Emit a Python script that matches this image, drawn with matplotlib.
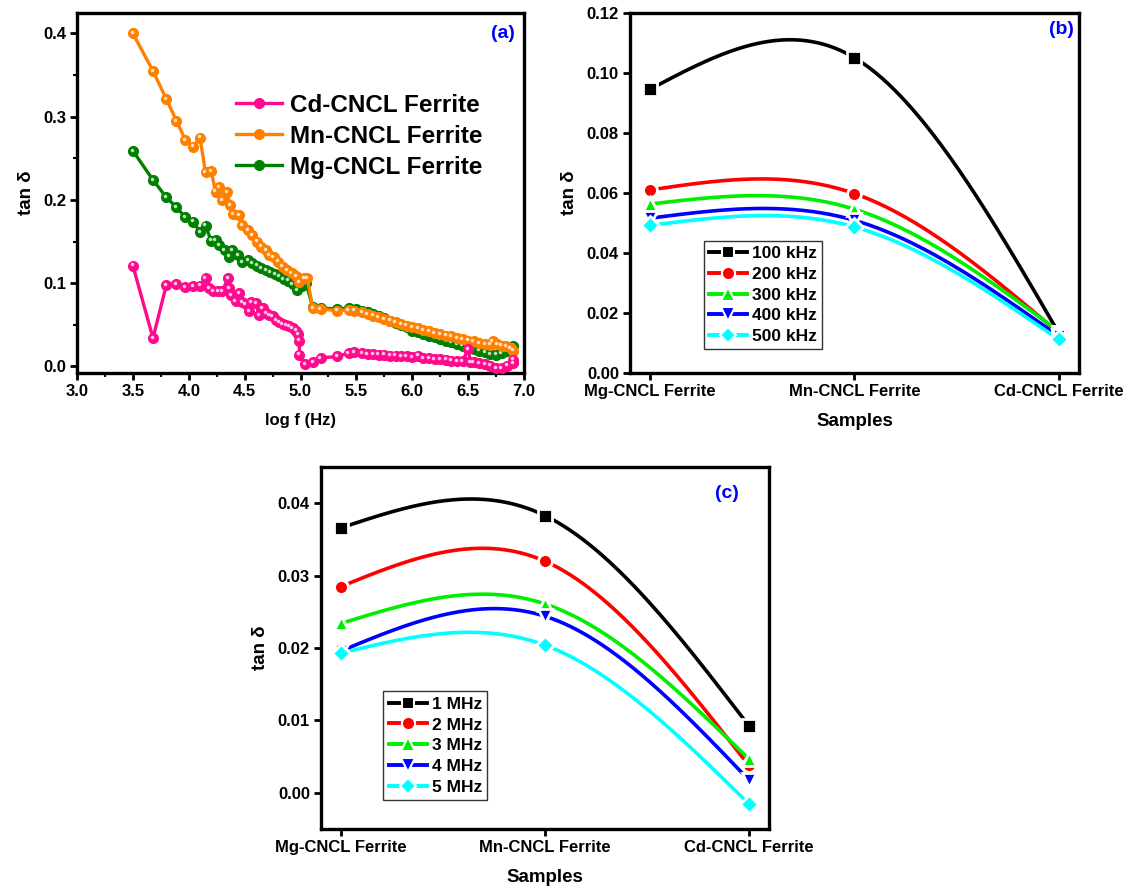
import numpy as np
import matplotlib
matplotlib.use("Agg")
import matplotlib.pyplot as plt
import matplotlib.transforms as mtransforms
from matplotlib.ticker import MultipleLocator, FormatStrFormatter

plt.rcParams['font.family'] = ['Liberation Sans', 'DejaVu Sans']
plt.rcParams['font.weight'] = 'bold'

# ---- panel (a): tan delta vs log f ----
mn_x = [3.50, 3.68, 3.80, 3.89, 3.97, 4.04, 4.10, 4.15, 4.20, 4.24, 4.27, 4.30, 4.34, 4.37,
        4.40, 4.45, 4.48, 4.53, 4.57, 4.61, 4.65, 4.69, 4.72, 4.76, 4.80, 4.84, 4.88, 4.92,
        4.96, 4.99, 5.03, 5.06, 5.11, 5.18, 5.33, 5.43, 5.48, 5.55, 5.60, 5.65, 5.70, 5.75,
        5.80, 5.85, 5.90, 5.95, 6.00, 6.05, 6.10, 6.15, 6.20, 6.25, 6.30, 6.35, 6.40, 6.45,
        6.50, 6.55, 6.60, 6.65, 6.70, 6.72, 6.76, 6.80, 6.84, 6.88, 6.90]
mn_y = [0.400, 0.355, 0.321, 0.295, 0.272, 0.264, 0.275, 0.233, 0.235, 0.210, 0.215, 0.200, 0.209, 0.194,
        0.183, 0.182, 0.170, 0.164, 0.158, 0.150, 0.144, 0.140, 0.134, 0.131, 0.126, 0.120, 0.116, 0.112,
        0.108, 0.101, 0.106, 0.106, 0.070, 0.069, 0.067, 0.068, 0.067, 0.065, 0.063, 0.061, 0.059, 0.057,
        0.055, 0.053, 0.051, 0.049, 0.047, 0.046, 0.044, 0.042, 0.040, 0.039, 0.037, 0.036, 0.034, 0.033,
        0.031, 0.030, 0.028, 0.027, 0.026, 0.030, 0.027, 0.025, 0.024, 0.022, 0.019]

mg_x = [3.50, 3.68, 3.80, 3.89, 3.97, 4.04, 4.10, 4.15, 4.20, 4.24, 4.27, 4.32, 4.36, 4.39,
        4.44, 4.48, 4.53, 4.57, 4.61, 4.65, 4.69, 4.73, 4.77, 4.81, 4.85, 4.89, 4.93, 4.97,
        5.01, 5.05, 5.11, 5.18, 5.33, 5.43, 5.50, 5.55, 5.60, 5.65, 5.70, 5.75, 5.80, 5.85,
        5.90, 5.95, 6.00, 6.05, 6.10, 6.15, 6.20, 6.25, 6.30, 6.35, 6.40, 6.45, 6.50, 6.55,
        6.60, 6.65, 6.70, 6.75, 6.80, 6.85, 6.90]
mg_y = [0.259, 0.224, 0.203, 0.191, 0.179, 0.174, 0.161, 0.169, 0.151, 0.152, 0.146, 0.140, 0.132, 0.140,
        0.134, 0.125, 0.128, 0.124, 0.121, 0.118, 0.116, 0.113, 0.111, 0.108, 0.105, 0.103, 0.099, 0.092,
        0.096, 0.100, 0.071, 0.070, 0.069, 0.070, 0.069, 0.067, 0.065, 0.063, 0.061, 0.058, 0.055, 0.052,
        0.050, 0.047, 0.043, 0.041, 0.039, 0.037, 0.035, 0.033, 0.031, 0.029, 0.027, 0.025, 0.023, 0.021,
        0.019, 0.017, 0.015, 0.014, 0.016, 0.019, 0.025]

cd_x = [3.50, 3.68, 3.80, 3.89, 3.97, 4.04, 4.10, 4.15, 4.18, 4.22, 4.26, 4.30, 4.35, 4.36,
        4.38, 4.42, 4.45, 4.48, 4.51, 4.54, 4.56, 4.60, 4.63, 4.66, 4.69, 4.72, 4.75, 4.78,
        4.81, 4.84, 4.87, 4.90, 4.93, 4.96, 4.98, 4.99, 4.99, 5.04, 5.11, 5.18, 5.33, 5.43,
        5.48, 5.55, 5.60, 5.65, 5.70, 5.75, 5.80, 5.85, 5.90, 5.95, 6.00, 6.05, 6.10, 6.15,
        6.20, 6.25, 6.30, 6.35, 6.40, 6.45, 6.50, 6.52, 6.55, 6.60, 6.65, 6.70, 6.75, 6.80,
        6.85, 6.90, 6.90]
cd_y = [0.121, 0.034, 0.098, 0.099, 0.095, 0.096, 0.097, 0.106, 0.094, 0.090, 0.090, 0.090, 0.106, 0.094,
        0.086, 0.078, 0.088, 0.077, 0.075, 0.066, 0.077, 0.076, 0.062, 0.070, 0.064, 0.062, 0.060, 0.056,
        0.053, 0.051, 0.050, 0.048, 0.046, 0.043, 0.039, 0.031, 0.014, 0.003, 0.005, 0.010, 0.012, 0.016,
        0.017, 0.016, 0.015, 0.015, 0.014, 0.014, 0.013, 0.013, 0.012, 0.012, 0.011, 0.013, 0.010, 0.010,
        0.009, 0.009, 0.008, 0.007, 0.006, 0.006, 0.021, 0.005, 0.005, 0.004, 0.003, 0.001, -0.002, -0.002,
        0.001, 0.008, 0.004]

# ---- panels (b) and (c): tan delta vs sample ----
samples = ['Mg-CNCL Ferrite', 'Mn-CNCL Ferrite', 'Cd-CNCL Ferrite']

khz_labels = ['100 kHz', '200 kHz', '300 kHz', '400 kHz', '500 kHz']
khz_vals = [[0.0945, 0.1050, 0.0135],
            [0.0610, 0.0598, 0.0135],
            [0.0563, 0.0546, 0.0140],
            [0.0516, 0.0509, 0.0124],
            [0.0492, 0.0487, 0.0113]]

mhz_labels = ['1 MHz', '2 MHz', '3 MHz', '4 MHz', '5 MHz']
mhz_vals = [[0.0366, 0.0383, 0.0093],
            [0.0285, 0.0320, 0.0038],
            [0.0234, 0.0261, 0.0047],
            [0.0196, 0.0244, 0.0018],
            [0.0193, 0.0204, -0.0015]]

series_colors = ['#000000', '#ff0000', '#00ee00', '#0000ff', '#00ffff']
series_markers = ['s', 'o', '^', 'v', 'D']
marker_sizes = [9.5, 10, 10.5, 10.5, 9]


def natural_spline(xp, yp, n=200):
    xp = np.asarray(xp, float)
    yp = np.asarray(yp, float)
    m = len(xp)
    h = np.diff(xp)
    A = np.zeros((m, m))
    r = np.zeros(m)
    A[0, 0] = A[-1, -1] = 1
    for i in range(1, m - 1):
        A[i, i - 1] = h[i - 1]
        A[i, i] = 2 * (h[i - 1] + h[i])
        A[i, i + 1] = h[i]
        r[i] = 6 * ((yp[i + 1] - yp[i]) / h[i] - (yp[i] - yp[i - 1]) / h[i - 1])
    M = np.linalg.solve(A, r)
    xs = np.linspace(xp[0], xp[-1], n)
    idx = np.clip(np.searchsorted(xp, xs) - 1, 0, m - 2)
    x0, x1 = xp[idx], xp[idx + 1]
    hh = x1 - x0
    a = (x1 - xs) / hh
    b = (xs - x0) / hh
    ys = (a * yp[idx] + b * yp[idx + 1]
          + ((a ** 3 - a) * M[idx] + (b ** 3 - b) * M[idx + 1]) * hh ** 2 / 6)
    return xs, ys


def style_axes(ax):
    for sp in ax.spines.values():
        sp.set_linewidth(2.4)
    ax.tick_params(which='major', direction='out', length=5, width=2, labelsize=12, pad=3)
    ax.tick_params(which='minor', direction='out', length=3, width=1.5)
    for lab in ax.get_xticklabels() + ax.get_yticklabels():
        lab.set_fontweight('bold')


fig = plt.figure(figsize=(11.34, 8.92), dpi=100)

# ---------------- (a) ----------------
ax1 = fig.add_axes([0.0679, 0.5818, 0.3942, 0.4040])
offset = mtransforms.ScaledTranslation(-0.9 / 72, 0.9 / 72, fig.dpi_scale_trans)
handles = {}
for name, xs, ys, col, z in [('Mg-CNCL Ferrite', mg_x, mg_y, '#008000', 2),
                             ('Mn-CNCL Ferrite', mn_x, mn_y, '#ff8000', 3),
                             ('Cd-CNCL Ferrite', cd_x, cd_y, '#ff0a8c', 4)]:
    h, = ax1.plot(xs, ys, '-o', color=col, lw=2.4, ms=7, mec=col, mfc=col, zorder=z, label=name)
    ax1.plot(xs, ys, 'o', color='white', ms=1.6, alpha=0.65, zorder=z,
             transform=ax1.transData + offset)
    handles[name] = h
ax1.set_xlim(3.0, 7.0)
ax1.set_ylim(-0.008, 0.425)
ax1.xaxis.set_major_locator(MultipleLocator(0.5))
ax1.xaxis.set_minor_locator(MultipleLocator(0.25))
ax1.yaxis.set_major_locator(MultipleLocator(0.1))
ax1.yaxis.set_minor_locator(MultipleLocator(0.05))
ax1.xaxis.set_major_formatter(FormatStrFormatter('%.1f'))
ax1.yaxis.set_major_formatter(FormatStrFormatter('%.1f'))
style_axes(ax1)
ax1.set_xlabel('log f (Hz)', fontsize=12, fontweight='bold', labelpad=10)
ax1.set_ylabel('tan δ', fontsize=13.5, fontweight='bold', labelpad=6)
order = ['Cd-CNCL Ferrite', 'Mn-CNCL Ferrite', 'Mg-CNCL Ferrite']
ax1.legend([handles[k] for k in order], order, loc='upper left', bbox_to_anchor=(0.355, 0.775),
           frameon=False, prop={'size': 17.5, 'weight': 'bold'}, handlelength=1.9,
           handletextpad=0.35, labelspacing=0.33, borderpad=0, borderaxespad=0)
ax1.text(0.952, 0.942, '(a)', transform=ax1.transAxes, color='#0000ff', fontsize=14,
         fontweight='bold', ha='center', va='center')


def sample_panel(ax, vals, labels, ylim, ystep, tag, tagpos, legbox):
    xcat = np.arange(len(samples))
    for v, lab, col, mk, ms in zip(vals, labels, series_colors, series_markers, marker_sizes):
        xs, ys = natural_spline(xcat, v)
        ax.plot(xs, ys, '-', color=col, lw=2.6, zorder=2)
        ax.plot(xcat, v, mk, color=col, ms=ms, mec='white', mew=2, zorder=3)
        ax.plot([], [], '-' + mk, color=col, lw=2.8, ms=ms - 0.5, mec='white',
                mew=1.5, label=lab)
    ax.set_xlim(-0.098, 2.1)
    ax.set_ylim(*ylim)
    ax.set_xticks(xcat)
    ax.set_xticklabels(samples)
    ax.yaxis.set_major_locator(MultipleLocator(ystep))
    ax.yaxis.set_major_formatter(FormatStrFormatter('%.2f'))
    style_axes(ax)
    ax.set_xlabel('Samples', fontsize=13.5, fontweight='bold', labelpad=10)
    ax.set_ylabel('tan δ', fontsize=13.5, fontweight='bold', labelpad=6)
    leg = ax.legend(loc='upper left', bbox_to_anchor=legbox, frameon=True, fancybox=False,
                    edgecolor='black', prop={'size': 12.5, 'weight': 'bold'}, handlelength=2.2,
                    handletextpad=0.3, labelspacing=0.32, borderpad=0.3, borderaxespad=0)
    leg.get_frame().set_linewidth(1.0)
    ax.text(tagpos[0], tagpos[1], tag, transform=ax.transAxes, color='#0000ff', fontsize=14,
            fontweight='bold', ha='center', va='center')


# ---------------- (b) ----------------
ax2 = fig.add_axes([0.5556, 0.5815, 0.3959, 0.4044])
sample_panel(ax2, khz_vals, khz_labels, (0.0, 0.12), 0.02, '(b)', (0.96, 0.952), (0.164, 0.367))

# ---------------- (c) ----------------
ax3 = fig.add_axes([0.2831, 0.0706, 0.3951, 0.4058])
sample_panel(ax3, mhz_vals, mhz_labels, (-0.005, 0.045), 0.01, '(c)', (0.907, 0.928), (0.139, 0.380))

fig.savefig('out.png', dpi=100)
